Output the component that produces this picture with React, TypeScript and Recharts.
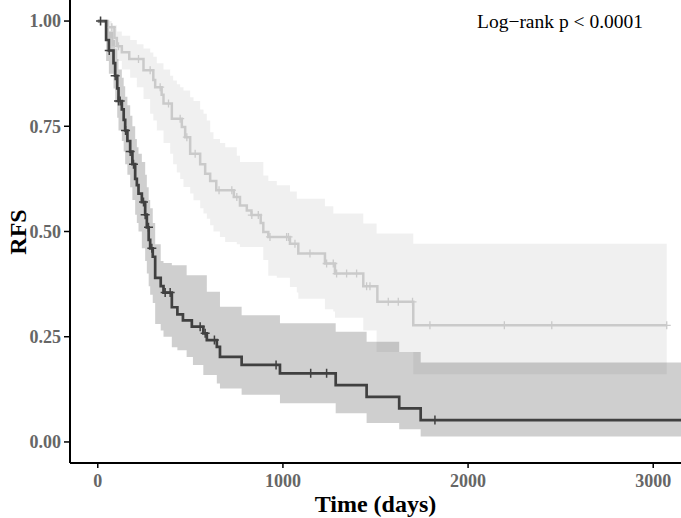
import React from "react";
import { ComposedChart, XAxis, YAxis, Line, Area } from "recharts";

// ---- Data ----
const xTicks = [0, 1000, 2000, 3000];
const yTicks = [0, 0.25, 0.5, 0.75, 1.0];

// Dark group: KM step curve
const darkTimes = [0, 45, 60, 85, 94, 105, 112, 130, 140, 148, 160, 175, 187, 202, 211, 220, 238, 256, 265, 275, 283, 297, 310, 340, 355, 400, 430, 460, 508, 570, 589, 643, 660, 777, 984, 1285, 1452, 1628, 1744, 3150];
const darkSurv = [1.0, 0.955, 0.93, 0.9, 0.87, 0.84, 0.81, 0.79, 0.765, 0.74, 0.715, 0.69, 0.66, 0.625, 0.61, 0.59, 0.57, 0.54, 0.51, 0.48, 0.46, 0.44, 0.39, 0.37, 0.355, 0.32, 0.303, 0.289, 0.274, 0.258, 0.242, 0.226, 0.202, 0.183, 0.163, 0.135, 0.107, 0.08, 0.052, 0.052];
const darkCensor = [15, 62, 94, 112, 121, 150, 175, 193, 247, 256, 274, 292, 364, 391, 553, 580, 630, 963, 1150, 1236, 1821];
// Dark group: confidence band
const darkBandTimes = [0, 45, 60, 85, 94, 105, 112, 130, 140, 148, 160, 175, 187, 202, 211, 220, 238, 256, 265, 275, 283, 297, 310, 340, 355, 400, 430, 480, 514, 570, 589, 643, 660, 777, 984, 1285, 1452, 1628, 1744, 3150];
const darkUpper = [1, 0.99, 0.975, 0.955, 0.935, 0.91, 0.885, 0.865, 0.845, 0.82, 0.8, 0.775, 0.75, 0.72, 0.7, 0.685, 0.665, 0.635, 0.605, 0.575, 0.555, 0.52, 0.47, 0.43, 0.425, 0.42, 0.42, 0.396, 0.396, 0.396, 0.357, 0.357, 0.321, 0.301, 0.282, 0.262, 0.238, 0.214, 0.189, 0.189];
const darkLower = [1, 0.905, 0.875, 0.84, 0.805, 0.77, 0.74, 0.715, 0.69, 0.66, 0.635, 0.605, 0.575, 0.54, 0.52, 0.5, 0.46, 0.43, 0.4, 0.37, 0.35, 0.33, 0.28, 0.265, 0.25, 0.225, 0.218, 0.202, 0.183, 0.159, 0.159, 0.139, 0.127, 0.112, 0.092, 0.068, 0.045, 0.03, 0.013, 0.013];

// Light group: KM step curve
const lightTimes = [0, 55, 90, 103, 130, 170, 247, 300, 310, 345, 355, 400, 454, 472, 499, 553, 580, 607, 640, 735, 768, 805, 830, 880, 894, 921, 1038, 1083, 1227, 1281, 1434, 1510, 1704, 3073];
const lightSurv = [1.0, 0.985, 0.96, 0.94, 0.926, 0.91, 0.883, 0.86, 0.843, 0.825, 0.804, 0.768, 0.748, 0.724, 0.685, 0.66, 0.637, 0.62, 0.598, 0.582, 0.562, 0.55, 0.539, 0.52, 0.499, 0.487, 0.471, 0.448, 0.424, 0.4, 0.37, 0.333, 0.277, 0.277];
const lightCensor = [15, 76, 112, 220, 283, 337, 382, 445, 481, 526, 655, 724, 751, 832, 867, 930, 1020, 1030, 1065, 1146, 1236, 1272, 1290, 1344, 1398, 1452, 1470, 1569, 1623, 1700, 1794, 2196, 2452, 3073];
// Light group: confidence band
const lightBandTimes = [0, 55, 75, 103, 130, 175, 211, 247, 283, 300, 319, 355, 391, 407, 427, 445, 463, 499, 517, 553, 571, 589, 607, 625, 660, 688, 751, 768, 894, 921, 967, 1038, 1075, 1083, 1227, 1272, 1281, 1434, 1506, 1704, 3073];
const lightUpper = [1, 1, 0.99, 0.975, 0.965, 0.955, 0.945, 0.935, 0.925, 0.915, 0.9, 0.885, 0.87, 0.859, 0.85, 0.843, 0.835, 0.819, 0.81, 0.79, 0.78, 0.764, 0.736, 0.72, 0.71, 0.7, 0.68, 0.665, 0.633, 0.62, 0.61, 0.595, 0.578, 0.578, 0.56, 0.543, 0.543, 0.519, 0.495, 0.471, 0.471];
const lightLower = [1, 0.96, 0.94, 0.905, 0.885, 0.865, 0.843, 0.815, 0.78, 0.764, 0.74, 0.71, 0.685, 0.66, 0.64, 0.625, 0.606, 0.59, 0.574, 0.555, 0.543, 0.53, 0.515, 0.5, 0.487, 0.475, 0.47, 0.463, 0.432, 0.395, 0.39, 0.368, 0.355, 0.34, 0.315, 0.31, 0.295, 0.265, 0.214, 0.161, 0.161];

// ---- Build tables ----
type Pt = { t: number; s: number; c: boolean };
function survAt(times: number[], surv: number[], t: number) {
  let v = surv[0];
  for (let i = 0; i < times.length; i++) if (times[i] <= t) v = surv[i];
  return v;
}
function buildCurve(times: number[], surv: number[], censor: number[]): Pt[] {
  const pts: Pt[] = times.map((t, i) => ({ t, s: surv[i], c: false }));
  const cs: Pt[] = censor.map((t) => ({ t, s: survAt(times, surv, t), c: true }));
  return [...pts, ...cs].sort((a, b) => a.t - b.t || (a.c ? 1 : 0) - (b.c ? 1 : 0));
}
function buildBand(times: number[], lo: number[], hi: number[]) {
  return times.map((t, i) => ({ t, band: [lo[i], hi[i]] }));
}

const darkCurve = buildCurve(darkTimes, darkSurv, darkCensor);
const lightCurve = buildCurve(lightTimes, lightSurv, lightCensor);
const darkBand = buildBand(darkBandTimes, darkLower, darkUpper);
const lightBand = buildBand(lightBandTimes, lightLower, lightUpper);

const DARK = "#404040";
const LIGHT = "#cacaca";

function crossDot(color: string, size: number, width: number) {
  return (props: any) => {
    const { cx, cy, payload, index } = props;
    if (!payload || !payload.c || cx == null || cy == null) return <g key={`n${index}`} />;
    return (
      <path
        key={`c${index}`}
        d={`M${cx - size},${cy}h${2 * size}M${cx},${cy - size}v${2 * size}`}
        stroke={color}
        strokeWidth={width}
        fill="none"
      />
    );
  };
}

const tickStyle = {
  fill: "#666666",
  fontSize: 18,
  fontWeight: "bold",
  fontFamily: "Liberation Serif, Times New Roman, serif",
};

export default function App() {
  return (
    <div style={{ position: "absolute", left: 0, top: 0, width: 681, height: 518, background: "#fff" }}>
      <ComposedChart width={681} height={518} margin={{ top: 0, right: 0, bottom: 0, left: 0 }}>
        <XAxis
          type="number"
          dataKey="t"
          domain={[-150, 3150]}
          allowDataOverflow
          ticks={xTicks}
          interval={0}
          height={55}
          tickSize={5}
          tickMargin={6}
          axisLine={{ stroke: "#000", strokeWidth: 2 }}
          tickLine={{ stroke: "#000", strokeWidth: 1.5 }}
          tick={tickStyle}
        />
        <YAxis
          type="number"
          domain={[-0.05, 1.05]}
          allowDataOverflow
          ticks={yTicks}
          interval={0}
          width={70}
          tickSize={6}
          tickMargin={3}
          tickFormatter={(v: number) => v.toFixed(2)}
          axisLine={{ stroke: "#000", strokeWidth: 2 }}
          tickLine={{ stroke: "#000", strokeWidth: 1.5 }}
          tick={tickStyle}
        />
        <Area
          data={lightBand}
          dataKey="band"
          type="stepAfter"
          stroke="none"
          fill="#c8c8c8"
          fillOpacity={0.28}
          isAnimationActive={false}
          activeDot={false}
        />
        <Area
          data={darkBand}
          dataKey="band"
          type="stepAfter"
          stroke="none"
          fill={DARK}
          fillOpacity={0.25}
          isAnimationActive={false}
          activeDot={false}
        />
        <Line
          data={lightCurve}
          dataKey="s"
          type="stepAfter"
          stroke={LIGHT}
          strokeWidth={2.5}
          dot={crossDot(LIGHT, 4, 1.3)}
          activeDot={false}
          isAnimationActive={false}
        />
        <Line
          data={darkCurve}
          dataKey="s"
          type="stepAfter"
          stroke={DARK}
          strokeWidth={2.7}
          dot={crossDot(DARK, 4.5, 1.5)}
          activeDot={false}
          isAnimationActive={false}
        />
      </ComposedChart>
      <svg
        width={681}
        height={518}
        style={{ position: "absolute", left: 0, top: 0, pointerEvents: "none" }}
      >
        <text
          x={560}
          y={28}
          textAnchor="middle"
          fontSize={19.5}
          fontFamily="Liberation Serif, Times New Roman, serif"
          fill="#000"
        >
          {"Log\u2212rank p < 0.0001"}
        </text>
        <text
          transform="translate(26,232) rotate(-90)"
          textAnchor="middle"
          fontSize={24}
          fontWeight="bold"
          fontFamily="Liberation Serif, Times New Roman, serif"
          fill="#000"
        >
          RFS
        </text>
        <text
          x={375.5}
          y={512}
          textAnchor="middle"
          fontSize={24}
          fontWeight="bold"
          fontFamily="Liberation Serif, Times New Roman, serif"
          fill="#000"
        >
          Time (days)
        </text>
      </svg>
    </div>
  );
}
